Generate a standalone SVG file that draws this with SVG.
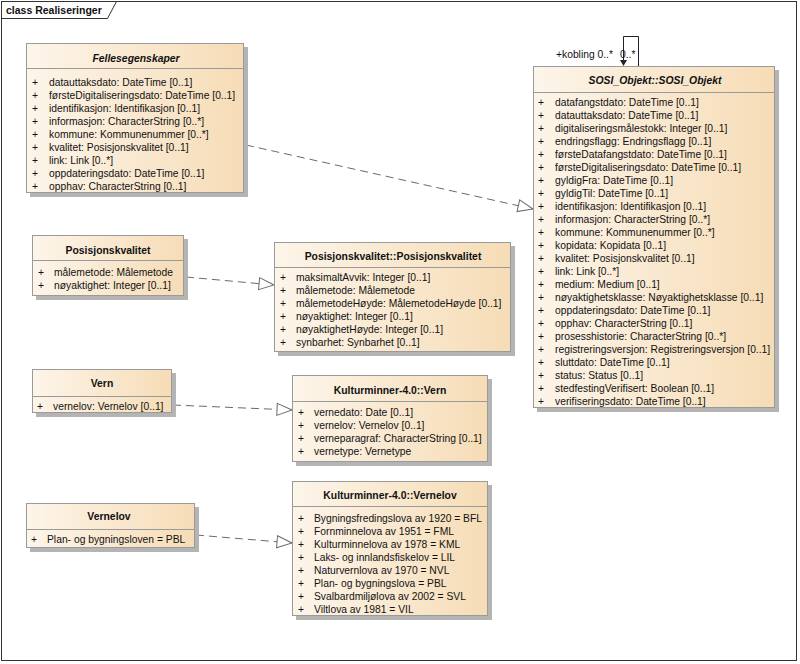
<svg xmlns="http://www.w3.org/2000/svg" width="800" height="664" viewBox="0 0 800 664">
<style>
text{font-family:"Liberation Sans",Arial,sans-serif;fill:#111}
.t{font-size:10.4px;font-weight:bold;text-anchor:middle}
.ti{font-size:10.4px;font-weight:bold;font-style:italic;text-anchor:middle}
.a{font-size:10.3px}
.body{fill:url(#g);stroke:#9a9a9a;stroke-width:1}
.sh{fill:#b4b4b4}
.sep{stroke:#9a9a9a;stroke-width:1}
.dep{fill:none;stroke:#6a6a6a;stroke-width:1;stroke-dasharray:8,5;marker-end:url(#tri)}
</style>
<defs>
<linearGradient id="g" x1="0" y1="0" x2="1" y2="0">
<stop offset="0" stop-color="#fdf5ea"/>
<stop offset="1" stop-color="#f6dcb6"/>
</linearGradient>
<marker id="tri" markerUnits="userSpaceOnUse" markerWidth="18" markerHeight="16" refX="16" refY="8" orient="auto">
<path d="M1,2 L16,8 L1,14 Z" fill="#fff" stroke="#6a6a6a" stroke-width="1"/>
</marker>
</defs>
<rect x="0" y="0" width="800" height="664" fill="#fff"/>
<g id="frame">
<rect x="1.5" y="1.5" width="795" height="659" fill="none" stroke="#333" stroke-width="1"/>
<polyline points="1.5,18.5 107.5,18.5 116.5,1.5" fill="none" stroke="#333" stroke-width="1"/>
<text x="6" y="14" style="font-size:10.5px;font-weight:bold">class Realiseringer</text>
</g>
<g id="connectors">
<line class="dep" x1="246" y1="145" x2="533" y2="209"/>
<line class="dep" x1="186" y1="277" x2="274" y2="285"/>
<line class="dep" x1="173" y1="405" x2="292" y2="410"/>
<line class="dep" x1="196" y1="535" x2="292" y2="543"/>
<path d="M623.5,60 V36.5 H638.5 V66" fill="none" stroke="#222" stroke-width="1"/>
<path d="M620,60 L627,60 L623.5,66 Z" fill="#222"/>
<text x="556" y="58" class="a">+kobling 0..*</text>
<text x="620" y="58" class="a">0..*</text>
</g>
<g id="Fellesegenskaper">
<rect class="sh" x="30" y="47" width="218" height="150"/>
<rect class="body" x="26.5" y="43.5" width="217" height="149"/>
<line class="sep" x1="26.5" y1="68.5" x2="243.5" y2="68.5"/>
<text class="ti" x="136" y="62">Fellesegenskaper</text>
<g class="a">
<text x="32" y="85.5">+</text><text x="49" y="85.5">datauttaksdato: DateTime [0..1]</text>
<text x="32" y="98.5">+</text><text x="49" y="98.5">førsteDigitaliseringsdato: DateTime [0..1]</text>
<text x="32" y="111.5">+</text><text x="49" y="111.5">identifikasjon: Identifikasjon [0..1]</text>
<text x="32" y="124.5">+</text><text x="49" y="124.5">informasjon: CharacterString [0..*]</text>
<text x="32" y="137.5">+</text><text x="49" y="137.5">kommune: Kommunenummer [0..*]</text>
<text x="32" y="150.5">+</text><text x="49" y="150.5">kvalitet: Posisjonskvalitet [0..1]</text>
<text x="32" y="163.5">+</text><text x="49" y="163.5">link: Link [0..*]</text>
<text x="32" y="176.5">+</text><text x="49" y="176.5">oppdateringsdato: DateTime [0..1]</text>
<text x="32" y="189.5">+</text><text x="49" y="189.5">opphav: CharacterString [0..1]</text>
</g>
</g>
<g id="SOSI_Objekt">
<rect class="sh" x="537" y="70" width="242" height="342"/>
<rect class="body" x="533.5" y="66.5" width="241" height="341"/>
<line class="sep" x1="533.5" y1="92.5" x2="774.5" y2="92.5"/>
<text class="ti" x="655" y="84">SOSI_Objekt::SOSI_Objekt</text>
<g class="a">
<text x="538" y="105.5">+</text><text x="555" y="105.5">datafangstdato: DateTime [0..1]</text>
<text x="538" y="118.5">+</text><text x="555" y="118.5">datauttaksdato: DateTime [0..1]</text>
<text x="538" y="131.5">+</text><text x="555" y="131.5">digitaliseringsmålestokk: Integer [0..1]</text>
<text x="538" y="144.5">+</text><text x="555" y="144.5">endringsflagg: Endringsflagg [0..1]</text>
<text x="538" y="157.5">+</text><text x="555" y="157.5">førsteDatafangstdato: DateTime [0..1]</text>
<text x="538" y="170.5">+</text><text x="555" y="170.5">førsteDigitaliseringsdato: DateTime [0..1]</text>
<text x="538" y="183.5">+</text><text x="555" y="183.5">gyldigFra: DateTime [0..1]</text>
<text x="538" y="196.5">+</text><text x="555" y="196.5">gyldigTil: DateTime [0..1]</text>
<text x="538" y="209.5">+</text><text x="555" y="209.5">identifikasjon: Identifikasjon [0..1]</text>
<text x="538" y="222.5">+</text><text x="555" y="222.5">informasjon: CharacterString [0..*]</text>
<text x="538" y="235.5">+</text><text x="555" y="235.5">kommune: Kommunenummer [0..*]</text>
<text x="538" y="248.5">+</text><text x="555" y="248.5">kopidata: Kopidata [0..1]</text>
<text x="538" y="261.5">+</text><text x="555" y="261.5">kvalitet: Posisjonskvalitet [0..1]</text>
<text x="538" y="274.5">+</text><text x="555" y="274.5">link: Link [0..*]</text>
<text x="538" y="287.5">+</text><text x="555" y="287.5">medium: Medium [0..1]</text>
<text x="538" y="300.5">+</text><text x="555" y="300.5">nøyaktighetsklasse: Nøyaktighetsklasse [0..1]</text>
<text x="538" y="313.5">+</text><text x="555" y="313.5">oppdateringsdato: DateTime [0..1]</text>
<text x="538" y="326.5">+</text><text x="555" y="326.5">opphav: CharacterString [0..1]</text>
<text x="538" y="339.5">+</text><text x="555" y="339.5">prosesshistorie: CharacterString [0..*]</text>
<text x="538" y="352.5">+</text><text x="555" y="352.5">registreringsversjon: Registreringsversjon [0..1]</text>
<text x="538" y="365.5">+</text><text x="555" y="365.5">sluttdato: DateTime [0..1]</text>
<text x="538" y="378.5">+</text><text x="555" y="378.5">status: Status [0..1]</text>
<text x="538" y="391.5">+</text><text x="555" y="391.5">stedfestingVerifisert: Boolean [0..1]</text>
<text x="538" y="404.5">+</text><text x="555" y="404.5">verifiseringsdato: DateTime [0..1]</text>
</g>
</g>
<g id="Posisjonskvalitet">
<rect class="sh" x="36" y="239" width="152" height="61"/>
<rect class="body" x="32.5" y="235.5" width="151" height="60"/>
<line class="sep" x1="32.5" y1="260.5" x2="183.5" y2="260.5"/>
<text class="t" x="108" y="254">Posisjonskvalitet</text>
<g class="a">
<text x="38" y="275.5">+</text><text x="54" y="275.5">målemetode: Målemetode</text>
<text x="38" y="288.5">+</text><text x="54" y="288.5">nøyaktighet: Integer [0..1]</text>
</g>
</g>
<g id="Posisjonskvalitet_Posisjonskvalitet">
<rect class="sh" x="278" y="246" width="237" height="110"/>
<rect class="body" x="274.5" y="242.5" width="236" height="109"/>
<line class="sep" x1="274.5" y1="267.5" x2="510.5" y2="267.5"/>
<text class="t" x="393" y="259.5">Posisjonskvalitet::Posisjonskvalitet</text>
<g class="a">
<text x="280" y="281">+</text><text x="296" y="281">maksimaltAvvik: Integer [0..1]</text>
<text x="280" y="294">+</text><text x="296" y="294">målemetode: Målemetode</text>
<text x="280" y="307">+</text><text x="296" y="307">målemetodeHøyde: MålemetodeHøyde [0..1]</text>
<text x="280" y="320">+</text><text x="296" y="320">nøyaktighet: Integer [0..1]</text>
<text x="280" y="333">+</text><text x="296" y="333">nøyaktighetHøyde: Integer [0..1]</text>
<text x="280" y="346">+</text><text x="296" y="346">synbarhet: Synbarhet [0..1]</text>
</g>
</g>
<g id="Vern">
<rect class="sh" x="36" y="373" width="140" height="44"/>
<rect class="body" x="32.5" y="369.5" width="139" height="43"/>
<line class="sep" x1="32.5" y1="396.5" x2="171.5" y2="396.5"/>
<text class="t" x="102" y="387">Vern</text>
<g class="a">
<text x="37" y="409.5">+</text><text x="53" y="409.5">vernelov: Vernelov [0..1]</text>
</g>
</g>
<g id="Kulturminner_Vern">
<rect class="sh" x="296" y="379" width="196" height="87"/>
<rect class="body" x="292.5" y="375.5" width="195" height="86"/>
<line class="sep" x1="292.5" y1="401.5" x2="487.5" y2="401.5"/>
<text class="t" x="390" y="393.5">Kulturminner-4.0::Vern</text>
<g class="a">
<text x="298" y="416">+</text><text x="314" y="416">vernedato: Date [0..1]</text>
<text x="298" y="429">+</text><text x="314" y="429">vernelov: Vernelov [0..1]</text>
<text x="298" y="442">+</text><text x="314" y="442">verneparagraf: CharacterString [0..1]</text>
<text x="298" y="455">+</text><text x="314" y="455">vernetype: Vernetype</text>
</g>
</g>
<g id="Vernelov">
<rect class="sh" x="30" y="507" width="169" height="45"/>
<rect class="body" x="26.5" y="503.5" width="168" height="44"/>
<line class="sep" x1="26.5" y1="529.5" x2="194.5" y2="529.5"/>
<text class="t" x="109" y="520">Vernelov</text>
<g class="a">
<text x="31" y="543">+</text><text x="47" y="543">Plan- og bygningsloven = PBL</text>
</g>
</g>
<g id="Kulturminner_Vernelov">
<rect class="sh" x="296" y="485" width="196" height="135"/>
<rect class="body" x="292.5" y="481.5" width="195" height="134"/>
<line class="sep" x1="292.5" y1="506.5" x2="487.5" y2="506.5"/>
<text class="t" x="390" y="499">Kulturminner-4.0::Vernelov</text>
<g class="a">
<text x="298" y="521.5">+</text><text x="314" y="521.5">Bygningsfredingslova av 1920 = BFL</text>
<text x="298" y="534.5">+</text><text x="314" y="534.5">Fornminnelova av 1951 = FML</text>
<text x="298" y="547.5">+</text><text x="314" y="547.5">Kulturminnelova av 1978 = KML</text>
<text x="298" y="560.5">+</text><text x="314" y="560.5">Laks- og innlandsfiskelov = LIL</text>
<text x="298" y="573.5">+</text><text x="314" y="573.5">Naturvernlova av 1970 = NVL</text>
<text x="298" y="586.5">+</text><text x="314" y="586.5">Plan- og bygningslova = PBL</text>
<text x="298" y="599.5">+</text><text x="314" y="599.5">Svalbardmiljølova av 2002 = SVL</text>
<text x="298" y="612.5">+</text><text x="314" y="612.5">Viltlova av 1981 = VIL</text>
</g>
</g>
</svg>
